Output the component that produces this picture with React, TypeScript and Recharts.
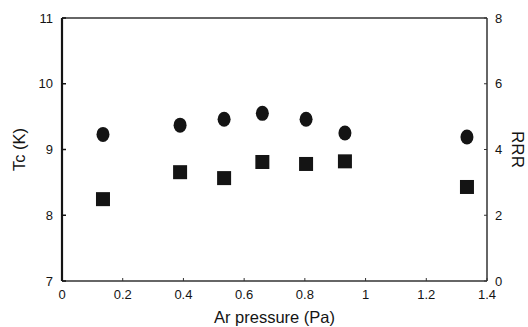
import { ScatterChart, Scatter, XAxis, YAxis, ReferenceLine } from "recharts";

const pressure = [0.135, 0.389, 0.534, 0.66, 0.804, 0.932, 1.334];
const tcValues = [9.23, 9.37, 9.46, 9.55, 9.46, 9.25, 9.19];
const rrrValues = [2.49, 3.31, 3.13, 3.62, 3.56, 3.64, 2.86];

const xTicks = [0, 0.2, 0.4, 0.6, 0.8, 1, 1.2, 1.4];
const tcTicks = [7, 8, 9, 10, 11];
const rrrTicks = [0, 2, 4, 6, 8];

const tcData = pressure.map((p, i) => ({ x: p, y: tcValues[i] }));
const rrrData = pressure.map((p, i) => ({ x: p, y: rrrValues[i] }));

const font = "'Liberation Sans', Arial, sans-serif";
const ink = "#141414";
const tickStyle = { fontSize: 13, fill: ink, fontFamily: font };

const Dot = (props: any) => (
  <ellipse cx={props.cx} cy={props.cy} rx={6.5} ry={7.5} fill={ink} />
);

const Square = (props: any) => (
  <rect x={props.cx - 7} y={props.cy - 7} width={14} height={14} fill={ink} />
);

export default function App() {
  return (
    <div style={{ position: "absolute", left: 0, top: 0, background: "#fff" }}>
      <ScatterChart width={528} height={327} margin={{ top: 18, right: 0, bottom: 0, left: 0 }}>
        <XAxis
          type="number"
          dataKey="x"
          domain={[0, 1.4]}
          ticks={xTicks}
          tickFormatter={(v) => String(v)}
          height={46}
          tick={tickStyle}
          tickSize={-3}
          tickMargin={12}
          tickLine={{ stroke: "#333" }}
          axisLine={{ stroke: "#333", strokeWidth: 1.5 }}
          label={{ value: "Ar pressure (Pa)", position: "insideBottom", offset: 4, fontSize: 16.5, fill: ink, fontFamily: font }}
        />
        <YAxis
          yAxisId="left"
          type="number"
          dataKey="y"
          domain={[7, 11]}
          ticks={tcTicks}
          width={62}
          tick={tickStyle}
          tickSize={-4}
          tickMargin={13}
          tickLine={{ stroke: ink, strokeWidth: 1.5 }}
          axisLine={{ stroke: ink, strokeWidth: 2.2 }}
          label={{ value: "Tc (K)", angle: -90, position: "center", dx: -12, fontSize: 16.5, fill: ink, fontFamily: font }}
        />
        <YAxis
          yAxisId="right"
          orientation="right"
          type="number"
          dataKey="y"
          domain={[0, 8]}
          ticks={rrrTicks}
          width={41}
          tick={tickStyle}
          tickSize={-3}
          tickMargin={11}
          tickLine={{ stroke: "#333" }}
          axisLine={{ stroke: "#333", strokeWidth: 1.5 }}
          label={{ value: "RRR", angle: 90, position: "center", dx: 11, fontSize: 17, fill: ink, fontFamily: font }}
        />
        <ReferenceLine yAxisId="left" y={11} stroke="#333" strokeWidth={1.5} />
        <Scatter yAxisId="left" data={tcData} shape={<Dot />} isAnimationActive={false} />
        <Scatter yAxisId="right" data={rrrData} shape={<Square />} isAnimationActive={false} />
      </ScatterChart>
    </div>
  );
}
